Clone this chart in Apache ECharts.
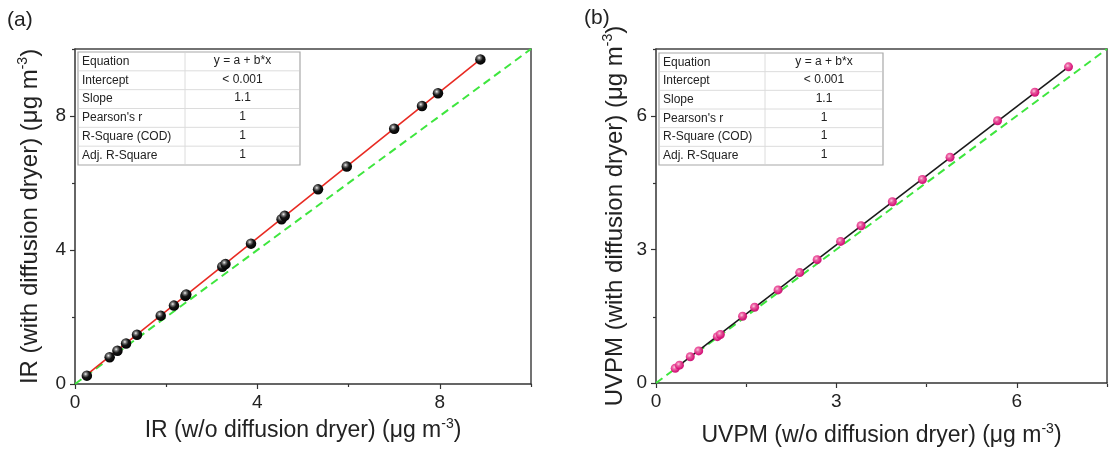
<!DOCTYPE html>
<html><head><meta charset="utf-8">
<script src="https://cdn.jsdelivr.net/npm/echarts@6/dist/echarts.min.js"></script>
<style>html,body{margin:0;padding:0;background:#fff}#c{width:1110px;height:452px}</style>
</head><body><div id="c"></div>
<script>
// ---- Panel (a): IR ----
const irX = [0.26,0.76,0.93,1.12,1.36,1.88,2.17,2.42,2.44,3.23,3.30,3.86,4.53,4.60,5.33,5.96,7.00,7.61,7.96,8.89];
const irY = [0.25,0.80,0.99,1.21,1.47,2.04,2.34,2.63,2.67,3.50,3.58,4.19,4.92,5.02,5.81,6.49,7.62,8.30,8.68,9.69];
const irFitX = [0.26, 8.89];
const irFitY = [0.28, 9.69];
const irOneX = [0, 10];
const irOneY = [0, 10];
const irMajor = [0, 4, 8];
const irMinor = [2, 6, 10];
// ---- Panel (b): UVPM ----
const uvX = [0.32,0.39,0.57,0.71,1.02,1.07,1.44,1.64,2.03,2.39,2.68,3.07,3.41,3.93,4.43,4.89,5.68,6.30,6.86];
const uvY = [0.33,0.40,0.59,0.72,1.04,1.09,1.50,1.70,2.09,2.48,2.77,3.18,3.53,4.07,4.57,5.07,5.89,6.53,7.10];
const uvFitX = [0.32, 6.86];
const uvFitY = [0.33, 7.10];
const uvOneX = [0, 7.5];
const uvOneY = [0, 7.5];
const uvMajor = [0, 3, 6];
const uvMinor = [1.5, 4.5, 7.5];
// ---- Fit tables ----
const tableKeys = ['Equation', 'Intercept', 'Slope', "Pearson's r", 'R-Square (COD)', 'Adj. R-Square'];
const tableValsA = ['y = a + b*x', '< 0.001', '1.1', '1', '1', '1'];
const tableValsB = ['y = a + b*x', '< 0.001', '1.1', '1', '1', '1'];
const panelLabels = ['(a)', '(b)'];
const xTitles = [['IR (w/o diffusion dryer) (\u03bcg m', '-3', ')'], ['UVPM (w/o diffusion dryer) (\u03bcg m', '-3', ')']];
const yTitles = [['IR (with diffusion dryer) (\u03bcg m', '-3', ')'], ['UVPM (with diffusion dryer) (\u03bcg m', '-3', ')']];

const FONT = 'Liberation Sans, Arial, sans-serif';
const zip = (a, b) => a.map((v, i) => [v, b[i]]);
const title = t => '{a|' + t[0] + '}{s|' + t[1] + '}{a|' + t[2] + '}';
const richX = {
  a: {fontSize: 23, fontFamily: FONT, color: '#222', lineHeight: 27},
  s: {fontSize: 14, fontFamily: FONT, color: '#222', verticalAlign: 'top', lineHeight: 27, padding: [0, 0, 10, 0]}
};
const richY = {
  a: {fontSize: 24, fontFamily: FONT, color: '#222', lineHeight: 28},
  s: {fontSize: 14, fontFamily: FONT, color: '#222', verticalAlign: 'top', lineHeight: 28, padding: [0, 0, 11, 0]}
};

const grids = [
  {left: 75, top: 49, width: 456, height: 335},
  {left: 656, top: 49, width: 451, height: 335}
];

function mainX(gi, max, major, name, gap) {
  return {type: 'value', gridIndex: gi, min: 0, max: max, position: 'bottom',
    axisLine: {show: true, onZero: false, lineStyle: {color: '#333', width: 1.5}},
    axisTick: {show: true, inside: false, length: 5, customValues: major, lineStyle: {color: '#333', width: 1.2}},
    axisLabel: {show: true, customValues: major, margin: 9, fontSize: 19, fontFamily: FONT, color: '#222'},
    splitLine: {show: false},
    name: title(name), nameLocation: 'middle', nameGap: gap,
    nameTextStyle: {rich: richX}};
}
function mainY(gi, max, major, name, gap) {
  return {type: 'value', gridIndex: gi, min: 0, max: max, position: 'left',
    axisLine: {show: true, onZero: false, lineStyle: {color: '#333', width: 1.5}},
    axisTick: {show: true, inside: false, length: 5, customValues: major, lineStyle: {color: '#333', width: 1.2}},
    axisLabel: {show: true, customValues: major, margin: 9, fontSize: 19, fontFamily: FONT, color: '#222'},
    splitLine: {show: false},
    name: title(name), nameLocation: 'middle', nameGap: gap, nameRotate: 90,
    nameTextStyle: {rich: richY}};
}
function borderAxis(type, gi, max, pos) {
  return {type: 'value', gridIndex: gi, min: 0, max: max, position: pos,
    axisLine: {show: true, onZero: false, lineStyle: {color: '#444', width: 1.5}},
    axisTick: {show: false}, axisLabel: {show: false}, splitLine: {show: false}};
}
function minorAxis(gi, max, vals, pos) {
  return {type: 'value', gridIndex: gi, min: 0, max: max, position: pos,
    axisLine: {show: false, onZero: false},
    axisTick: {show: true, inside: false, length: 3, customValues: vals, lineStyle: {color: '#333', width: 1.2}},
    axisLabel: {show: false}, splitLine: {show: false}};
}

const ballBlack = {type: 'radial', x: 0.38, y: 0.35, r: 0.7,
  colorStops: [{offset: 0, color: '#f2f2f2'}, {offset: 0.22, color: '#777'}, {offset: 0.5, color: '#151515'}, {offset: 1, color: '#000'}]};
const ballPink = {type: 'radial', x: 0.4, y: 0.38, r: 0.7,
  colorStops: [{offset: 0, color: '#f9c6de'}, {offset: 0.3, color: '#ee5fa2'}, {offset: 0.7, color: '#d9137a'}, {offset: 1, color: '#c20c6c'}]};

function tableGraphics(x, y, w, h, colX, keys, vals) {
  const els = [];
  const rh = h / keys.length;
  els.push({type: 'rect', shape: {x: x, y: y, width: w, height: h}, style: {fill: '#fff', stroke: '#a8a8a8', lineWidth: 1.2}, z: 10});
  for (let i = 1; i < keys.length; i++) {
    els.push({type: 'line', shape: {x1: x + 1, y1: y + rh * i, x2: x + w - 1, y2: y + rh * i}, style: {stroke: '#dcdcdc', lineWidth: 1}, z: 11});
  }
  els.push({type: 'line', shape: {x1: colX, y1: y + 1, x2: colX, y2: y + h - 1}, style: {stroke: '#dcdcdc', lineWidth: 1}, z: 11});
  keys.forEach((k, i) => {
    els.push({type: 'text', x: x + 4, y: y + rh * i + rh / 2, style: {text: k, fontSize: 12, fontFamily: FONT, fill: '#222', verticalAlign: 'middle', align: 'left'}, z: 12});
    els.push({type: 'text', x: (colX + x + w) / 2, y: y + rh * i + rh / 2 - 1, style: {text: vals[i], fontSize: 12, fontFamily: FONT, fill: '#222', verticalAlign: 'middle', align: 'center'}, z: 12});
  });
  return els;
}

const graphics = [].concat(
  tableGraphics(78, 52, 222, 113, 185, tableKeys, tableValsA),
  tableGraphics(659, 53, 224, 112, 765, tableKeys, tableValsB),
  [
    {type: 'text', x: 7, y: 20, style: {text: panelLabels[0], fontSize: 21, fontFamily: FONT, fill: '#222', verticalAlign: 'middle'}},
    {type: 'text', x: 584, y: 18, style: {text: panelLabels[1], fontSize: 21, fontFamily: FONT, fill: '#222', verticalAlign: 'middle'}}
  ]
);

const option = {
  backgroundColor: '#fff',
  animation: false,
  grid: [grids[0], grids[1], Object.assign({}, grids[0]), Object.assign({}, grids[1])],
  xAxis: [
    mainX(0, 10, irMajor, xTitles[0], 27),
    borderAxis('x', 0, 10, 'top'),
    mainX(1, 7.5, uvMajor, xTitles[1], 39),
    borderAxis('x', 1, 7.5, 'top'),
    minorAxis(2, 10, irMinor, 'bottom'),
    minorAxis(3, 7.5, uvMinor, 'bottom')
  ],
  yAxis: [
    mainY(0, 10, irMajor, yTitles[0], 31),
    borderAxis('y', 0, 10, 'right'),
    mainY(1, 7.5, uvMajor, yTitles[1], 27),
    borderAxis('y', 1, 7.5, 'right'),
    minorAxis(2, 10, irMinor, 'left'),
    minorAxis(3, 7.5, uvMinor, 'left')
  ],
  series: [
    {type: 'line', xAxisIndex: 0, yAxisIndex: 0, data: zip(irOneX, irOneY), showSymbol: false, z: 2,
      lineStyle: {color: '#3ee63e', width: 2, type: [8, 5]}},
    {type: 'line', xAxisIndex: 0, yAxisIndex: 0, data: zip(irFitX, irFitY), showSymbol: false, z: 3,
      lineStyle: {color: '#e82a22', width: 1.6}},
    {type: 'scatter', xAxisIndex: 0, yAxisIndex: 0, data: zip(irX, irY), symbolSize: 10.5, z: 4,
      itemStyle: {color: ballBlack, opacity: 1}},
    {type: 'line', xAxisIndex: 2, yAxisIndex: 2, data: zip(uvOneX, uvOneY), showSymbol: false, z: 2,
      lineStyle: {color: '#3ee63e', width: 2, type: [8, 5]}},
    {type: 'line', xAxisIndex: 2, yAxisIndex: 2, data: zip(uvFitX, uvFitY), showSymbol: false, z: 3,
      lineStyle: {color: '#1a1a1a', width: 1.6}},
    {type: 'scatter', xAxisIndex: 2, yAxisIndex: 2, data: zip(uvX, uvY), symbolSize: 9, z: 4,
      itemStyle: {color: ballPink, opacity: 0.95}}
  ],
  graphic: graphics
};

const chart = echarts.init(document.getElementById('c'), null, {renderer: 'canvas'});
chart.setOption(option);
</script>
</body></html>
